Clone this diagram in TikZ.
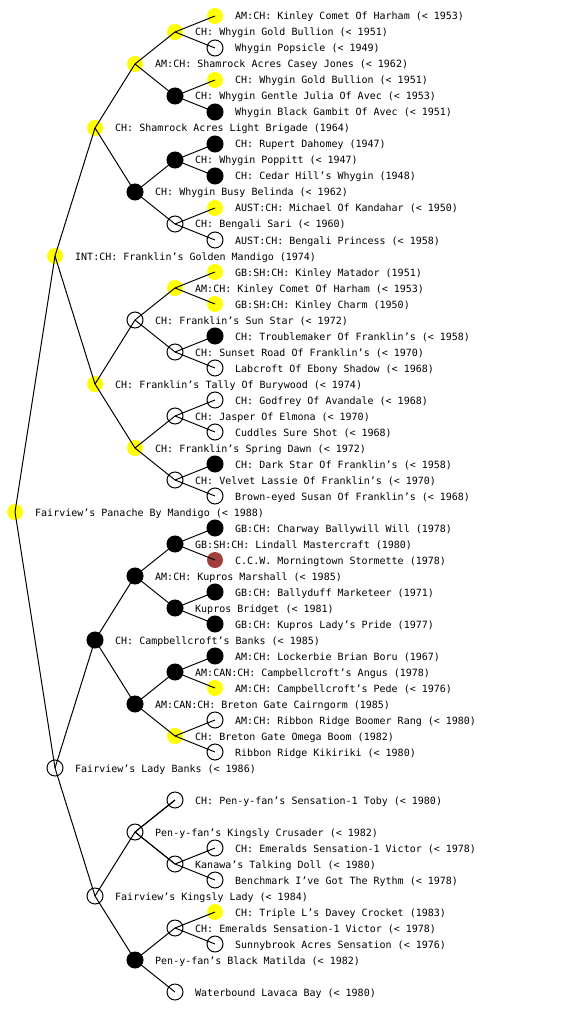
\documentclass[tikz,border=0pt]{standalone}
\usepackage{fontspec}
\newfontfamily\pixmono{DejaVu Sans Mono}
\definecolor{pyellow}{RGB}{255,255,0}
\definecolor{pred}{RGB}{160,64,60}
\newcommand\pnode[5]{\node[#2] (#1) at (#3,#4) {}; \node[lbl] (#1t) at (#3+20,#4+4) {#5};}
\begin{document}
\begin{tikzpicture}[x=1pt,y=-1pt,
  nd/.style={circle,minimum size=16pt,inner sep=0pt,outer sep=0pt},
  yel/.style={nd,fill=pyellow},
  blk/.style={nd,fill=black,draw=black,line width=1pt},
  wht/.style={nd,draw=black,line width=1pt},
  rd/.style={nd,fill=pred},
  lbl/.style={anchor=base west,inner sep=0pt,font=\pixmono\fontsize{10}{12}\selectfont},
  edge/.style={line width=1pt,black}]
\useasboundingbox (0,0) rectangle (560,1024);
% root and parents
\pnode{r}{yel}{15}{512}{Fairview’s Panache By Mandigo (< 1988)}
\pnode{s}{yel}{55}{256}{INT:CH: Franklin’s Golden Mandigo (1974)}
\pnode{d}{wht}{55}{768}{Fairview’s Lady Banks (< 1986)}
% grandparents
\pnode{ss}{yel}{95}{128}{CH: Shamrock Acres Light Brigade (1964)}
\pnode{sd}{yel}{95}{384}{CH: Franklin’s Tally Of Burywood (< 1974)}
\pnode{ds}{blk}{95}{640}{CH: Campbellcroft’s Banks (< 1985)}
\pnode{dd}{wht}{95}{896}{Fairview’s Kingsly Lady (< 1984)}
% great-grandparents
\pnode{sss}{yel}{135}{64}{AM:CH: Shamrock Acres Casey Jones (< 1962)}
\pnode{ssd}{blk}{135}{192}{CH: Whygin Busy Belinda (< 1962)}
\pnode{sds}{wht}{135}{320}{CH: Franklin’s Sun Star (< 1972)}
\pnode{sdd}{yel}{135}{448}{CH: Franklin’s Spring Dawn (< 1972)}
\pnode{dss}{blk}{135}{576}{AM:CH: Kupros Marshall (< 1985)}
\pnode{dsd}{blk}{135}{704}{AM:CAN:CH: Breton Gate Cairngorm (1985)}
\pnode{dds}{wht}{135}{832}{Pen-y-fan’s Kingsly Crusader (< 1982)}
\pnode{ddd}{blk}{135}{960}{Pen-y-fan’s Black Matilda (< 1982)}
% generation 4
\pnode{ssss}{yel}{175}{32}{CH: Whygin Gold Bullion (< 1951)}
\pnode{sssd}{blk}{175}{96}{CH: Whygin Gentle Julia Of Avec (< 1953)}
\pnode{ssds}{blk}{175}{160}{CH: Whygin Poppitt (< 1947)}
\pnode{ssdd}{wht}{175}{224}{CH: Bengali Sari (< 1960)}
\pnode{sdss}{yel}{175}{288}{AM:CH: Kinley Comet Of Harham (< 1953)}
\pnode{sdsd}{wht}{175}{352}{CH: Sunset Road Of Franklin’s (< 1970)}
\pnode{sdds}{wht}{175}{416}{CH: Jasper Of Elmona (< 1970)}
\pnode{sddd}{wht}{175}{480}{CH: Velvet Lassie Of Franklin’s (< 1970)}
\pnode{dsss}{blk}{175}{544}{GB:SH:CH: Lindall Mastercraft (1980)}
\pnode{dssd}{blk}{175}{608}{Kupros Bridget (< 1981)}
\pnode{dsds}{blk}{175}{672}{AM:CAN:CH: Campbellcroft’s Angus (1978)}
\pnode{dsdd}{yel}{175}{736}{CH: Breton Gate Omega Boom (1982)}
\pnode{ddss}{wht}{175}{800}{CH: Pen-y-fan’s Sensation-1 Toby (< 1980)}
\pnode{ddsd}{wht}{175}{864}{Kanawa’s Talking Doll (< 1980)}
\pnode{ddds}{wht}{175}{928}{CH: Emeralds Sensation-1 Victor (< 1978)}
\pnode{dddd}{wht}{175}{992}{Waterbound Lavaca Bay (< 1980)}
% generation 5
\pnode{sssss}{yel}{215}{16}{AM:CH: Kinley Comet Of Harham (< 1953)}
\pnode{ssssd}{wht}{215}{48}{Whygin Popsicle (< 1949)}
\pnode{sssds}{yel}{215}{80}{CH: Whygin Gold Bullion (< 1951)}
\pnode{sssdd}{blk}{215}{112}{Whygin Black Gambit Of Avec (< 1951)}
\pnode{ssdss}{blk}{215}{144}{CH: Rupert Dahomey (1947)}
\pnode{ssdsd}{blk}{215}{176}{CH: Cedar Hill’s Whygin (1948)}
\pnode{ssdds}{yel}{215}{208}{AUST:CH: Michael Of Kandahar (< 1950)}
\pnode{ssddd}{wht}{215}{240}{AUST:CH: Bengali Princess (< 1958)}
\pnode{sdsss}{yel}{215}{272}{GB:SH:CH: Kinley Matador (1951)}
\pnode{sdssd}{yel}{215}{304}{GB:SH:CH: Kinley Charm (1950)}
\pnode{sdsds}{blk}{215}{336}{CH: Troublemaker Of Franklin’s (< 1958)}
\pnode{sdsdd}{wht}{215}{368}{Labcroft Of Ebony Shadow (< 1968)}
\pnode{sddss}{wht}{215}{400}{CH: Godfrey Of Avandale (< 1968)}
\pnode{sddsd}{wht}{215}{432}{Cuddles Sure Shot (< 1968)}
\pnode{sddds}{blk}{215}{464}{CH: Dark Star Of Franklin’s (< 1958)}
\pnode{sdddd}{wht}{215}{496}{Brown-eyed Susan Of Franklin’s (< 1968)}
\pnode{dssss}{blk}{215}{528}{GB:CH: Charway Ballywill Will (1978)}
\pnode{dsssd}{rd}{215}{560}{C.C.W. Morningtown Stormette (1978)}
\pnode{dssds}{blk}{215}{592}{GB:CH: Ballyduff Marketeer (1971)}
\pnode{dssdd}{blk}{215}{624}{GB:CH: Kupros Lady’s Pride (1977)}
\pnode{dsdss}{blk}{215}{656}{AM:CH: Lockerbie Brian Boru (1967)}
\pnode{dsdsd}{yel}{215}{688}{AM:CH: Campbellcroft’s Pede (< 1976)}
\pnode{dsdds}{wht}{215}{720}{AM:CH: Ribbon Ridge Boomer Rang (< 1980)}
\pnode{dsddd}{wht}{215}{752}{Ribbon Ridge Kikiriki (< 1980)}
\pnode{ddsds}{wht}{215}{848}{CH: Emeralds Sensation-1 Victor (< 1978)}
\pnode{ddsdd}{wht}{215}{880}{Benchmark I’ve Got The Rythm (< 1978)}
\pnode{dddss}{yel}{215}{912}{CH: Triple L’s Davey Crocket (1983)}
\pnode{dddsd}{wht}{215}{944}{Sunnybrook Acres Sensation (< 1976)}
% connectors
\draw[edge] (r.center) -- (s.center);
\draw[edge] (r.center) -- (d.center);
\foreach \p in {s,d,ss,sd,ds,dd,sss,ssd,sds,sdd,dss,dsd,dds,ddd,
  ssss,sssd,ssds,ssdd,sdss,sdsd,sdds,sddd,dsss,dssd,dsds,dsdd,ddsd,ddds}
  \foreach \c in {s,d} \draw[edge] (\p.center) -- (\p\c.center);
\draw[edge] (dds.center) -- (ddss.center);
\draw[edge] (dds.center) -- (ddsd.center);
\end{tikzpicture}
\end{document}
